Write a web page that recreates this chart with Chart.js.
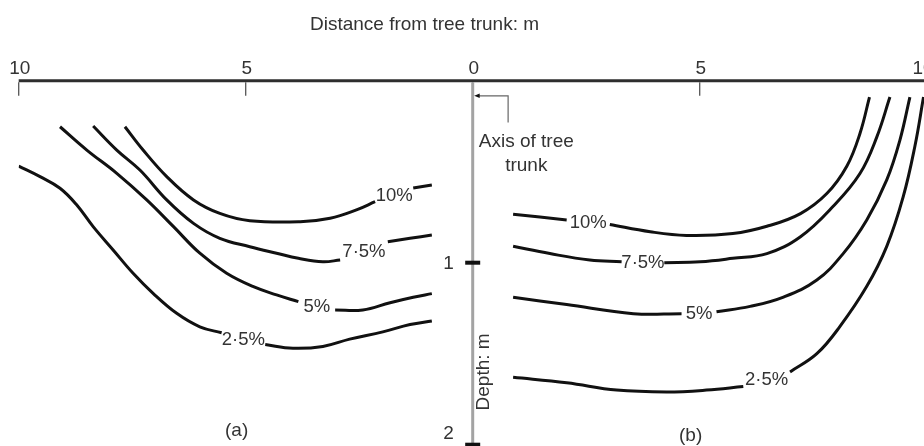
<!DOCTYPE html>
<html>
<head>
<meta charset="utf-8">
<title>Moisture deficit round a tree</title>
<script src="https://cdn.jsdelivr.net/npm/chart.js@4.4.0/dist/chart.umd.min.js"></script>
<style>
    html, body { margin: 0; padding: 0; background: #fff; overflow: hidden; }
    #wrap { width: 924px; height: 446px; overflow: hidden; }
    canvas { display: block; }
</style>
</head>
<body>
<div id="wrap"><canvas id="dvCanvas" width="940" height="446"></canvas></div>
<script>
    // distance axis (m), left half is side (a), right half side (b)
    var distanceTicks = [-10, -5, 0, 5, 10];
    var depthTicks = [1, 2];
    var contourNames = ['10%', '7·5%', '5%', '2·5%'];

    // side (a): [distance from trunk m, depth m], null = break where the label sits
    var a10 = [[7.66, 0.253], [7.26, 0.381], [6.74, 0.527], [6.15, 0.655], [5.57, 0.729], [4.91, 0.769], [3.80, 0.775], [3.14, 0.756], [2.56, 0.71], [2.15, 0.665], null, [1.31, 0.59], [0.90, 0.573]];
    var a75 = [[8.36, 0.249], [7.84, 0.381], [7.33, 0.491], [6.74, 0.655], [6.15, 0.784], [5.57, 0.866], [4.91, 0.912], [4.32, 0.948], [3.84, 0.976], [3.30, 0.995], [2.92, 0.985], null, [1.87, 0.885], [1.38, 0.866], [0.90, 0.848]];
    var a5 = [[9.09, 0.253], [8.50, 0.381], [7.84, 0.509], [7.18, 0.655], [6.59, 0.802], [6.01, 0.948], [5.42, 1.058], [4.83, 1.132], [4.32, 1.177], [3.84, 1.214], null, [3.03, 1.26], [2.42, 1.26], [1.82, 1.22], [1.31, 1.19], [0.90, 1.17]];
    var a25 = [[10.0, 0.469], [9.53, 0.527], [9.09, 0.591], [8.72, 0.683], [8.36, 0.802], [7.92, 0.93], [7.48, 1.058], [7.04, 1.168], [6.52, 1.278], [6.01, 1.352], [5.53, 1.385], null, [4.57, 1.45], [3.96, 1.47], [3.30, 1.46], [2.71, 1.42], [1.98, 1.38], [1.38, 1.34], [0.90, 1.32]];

    // side (b)
    var b10 = [[0.89, 0.734], [2.07, 0.765], null, [3.02, 0.79], [3.91, 0.83], [4.71, 0.85], [5.73, 0.84], [6.48, 0.80], [7.22, 0.73], [7.80, 0.62], [8.24, 0.47], [8.53, 0.29], [8.74, 0.09]];
    var b75 = [[0.89, 0.91], [1.70, 0.95], [2.58, 0.985], [3.28, 0.995], null, [4.22, 1.00], [5.01, 0.995], [5.73, 0.976], [6.48, 0.95], [7.22, 0.857], [7.94, 0.69], [8.53, 0.51], [8.90, 0.31], [9.19, 0.09]];
    var b5 = [[0.89, 1.19], [2.07, 1.23], [3.54, 1.28], [4.60, 1.28], null, [5.37, 1.27], [6.11, 1.24], [6.83, 1.19], [7.58, 1.095], [8.16, 0.95], [8.68, 0.765], [9.12, 0.545], [9.41, 0.326], [9.63, 0.09]];
    var b25 = [[0.89, 1.63], [2.07, 1.66], [3.17, 1.70], [4.27, 1.71], [5.15, 1.70], [5.96, 1.68], null, [6.99, 1.60], [7.58, 1.50], [8.09, 1.35], [8.68, 1.13], [9.12, 0.91], [9.48, 0.64], [9.74, 0.36], [9.93, 0.09]];

    var FONT = '"Liberation Sans", Arial, sans-serif';

    //side (a) is plotted to the left of the trunk, so flip its sign
    function toPoints(list, sign) {
        var out = [];
        for (var i = 0; i < list.length; i++) {
            if (list[i] === null) {
                out.push({ x: sign * list[i - 1][0], y: null });
            } else {
                out.push({ x: sign * list[i][0], y: list[i][1] });
            }
        }
        return out;
    }

    var datasets = [];
    [a10, a75, a5, a25].forEach(function (c, i) {
        datasets.push({ label: contourNames[i], data: toPoints(c, -1) });
    });
    [b10, b75, b5, b25].forEach(function (c, i) {
        datasets.push({ label: contourNames[i], data: toPoints(c, 1) });
    });
    datasets.forEach(function (d) {
        d.borderColor = '#111';
        d.borderWidth = 3;
        d.pointRadius = 0;
        d.tension = 0.4;
        d.spanGaps = false;
        d.fill = false;
    });

    function line(ctx, x1, y1, x2, y2) {
        ctx.beginPath();
        ctx.moveTo(x1, y1);
        ctx.lineTo(x2, y2);
        ctx.stroke();
    }

    var figureFrame = {
        id: 'figureFrame',
        beforeDatasetsDraw: function (chart) {
            var ctx = chart.ctx, xs = chart.scales.x, ys = chart.scales.y;
            var area = chart.chartArea;
            var top = ys.getPixelForValue(0);
            var x0 = xs.getPixelForValue(0);
            ctx.save();

            // distance axis along the ground surface
            ctx.strokeStyle = '#2e2e2e';
            ctx.lineWidth = 3;
            line(ctx, area.left, top, area.right, top);
            ctx.strokeStyle = '#555';
            ctx.lineWidth = 1.3;
            ctx.fillStyle = '#333';
            ctx.font = '19px ' + FONT;
            ctx.textAlign = 'center';
            ctx.textBaseline = 'alphabetic';
            distanceTicks.forEach(function (v) {
                var px = xs.getPixelForValue(v);
                line(ctx, px, top + 1.5, px, top + 15);
                ctx.fillText(String(Math.abs(v)), Math.min(px + 1, 923), top - 7);
            });

            // trunk axis, depth downwards
            ctx.strokeStyle = '#a3a3a3';
            ctx.lineWidth = 3;
            line(ctx, x0, top + 1.5, x0, chart.height);
            ctx.fillStyle = '#111';
            depthTicks.forEach(function (v) {
                var py = ys.getPixelForValue(v);
                ctx.fillRect(x0 - 7.5, py - 2, 15, 4);
            });
            ctx.fillStyle = '#333';
            ctx.textAlign = 'right';
            ctx.textBaseline = 'middle';
            depthTicks.forEach(function (v) {
                var py = Math.min(ys.getPixelForValue(v), chart.height - 13);
                ctx.fillText(String(v), x0 - 19, py + 1);
            });

            // axis title for depth, written up the trunk line
            ctx.save();
            ctx.translate(x0 + 11, ys.getPixelForValue(1.6));
            ctx.rotate(-Math.PI / 2);
            ctx.textAlign = 'center';
            ctx.fillText('Depth: m', 0, 0);
            ctx.restore();

            // figure title
            ctx.textAlign = 'center';
            ctx.textBaseline = 'alphabetic';
            ctx.fillText('Distance from tree trunk: m', 424.5, 29.5);

            // pointer to the trunk axis
            var cx = xs.getPixelForValue(0.78);
            var cy = ys.getPixelForValue(0.083);
            ctx.strokeStyle = '#666';
            ctx.lineWidth = 1.2;
            ctx.beginPath();
            ctx.moveTo(cx, ys.getPixelForValue(0.23));
            ctx.lineTo(cx, cy);
            ctx.lineTo(x0 + 5, cy);
            ctx.stroke();
            ctx.fillStyle = '#111';
            ctx.beginPath();
            ctx.moveTo(x0 + 1.5, cy);
            ctx.lineTo(x0 + 7, cy - 2.2);
            ctx.lineTo(x0 + 7, cy + 2.2);
            ctx.closePath();
            ctx.fill();
            ctx.fillStyle = '#333';
            var tx = xs.getPixelForValue(1.18);
            ctx.fillText('Axis of tree', tx, 146.5);
            ctx.fillText('trunk', tx, 170.5);

            // panel letters
            ctx.textBaseline = 'middle';
            ctx.fillText('(a)', xs.getPixelForValue(-5.2), ys.getPixelForValue(1.922));
            ctx.fillText('(b)', xs.getPixelForValue(4.8), ys.getPixelForValue(1.949));
            ctx.restore();
        },
        afterDatasetsDraw: function (chart) {
            var ctx = chart.ctx;
            ctx.save();
            ctx.fillStyle = '#333';
            ctx.font = '18.5px ' + FONT;
            ctx.textAlign = 'center';
            ctx.textBaseline = 'middle';
            chart.data.datasets.forEach(function (ds, i) {
                var pts = chart.getDatasetMeta(i).data;
                for (var k = 0; k < ds.data.length; k++) {
                    if (ds.data[k].y === null) {
                        // label goes in the break of the contour
                        var p = pts[k - 1], q = pts[k + 1];
                        ctx.fillText(ds.label, (p.x + q.x) / 2, (p.y + q.y) / 2 + 1);
                    }
                }
            });
            ctx.restore();
        }
    };

    var ctx = document.getElementById('dvCanvas').getContext('2d');
    var myChart = new Chart(ctx, {
        type: 'line',
        data: { datasets: datasets },
        options: {
            responsive: false,
            animation: false,
            devicePixelRatio: 1,
            layout: { padding: { left: 18.7, right: 13.3, top: 80.7, bottom: 1.3 } },
            scales: {
                x: { type: 'linear', min: -10, max: 10, display: false },
                y: { type: 'linear', min: 0, max: 2, reverse: true, display: false }
            },
            plugins: {
                legend: { display: false },
                tooltip: { enabled: false },
                title: { display: false }
            }
        },
        plugins: [figureFrame]
    });
</script>
</body>
</html>
